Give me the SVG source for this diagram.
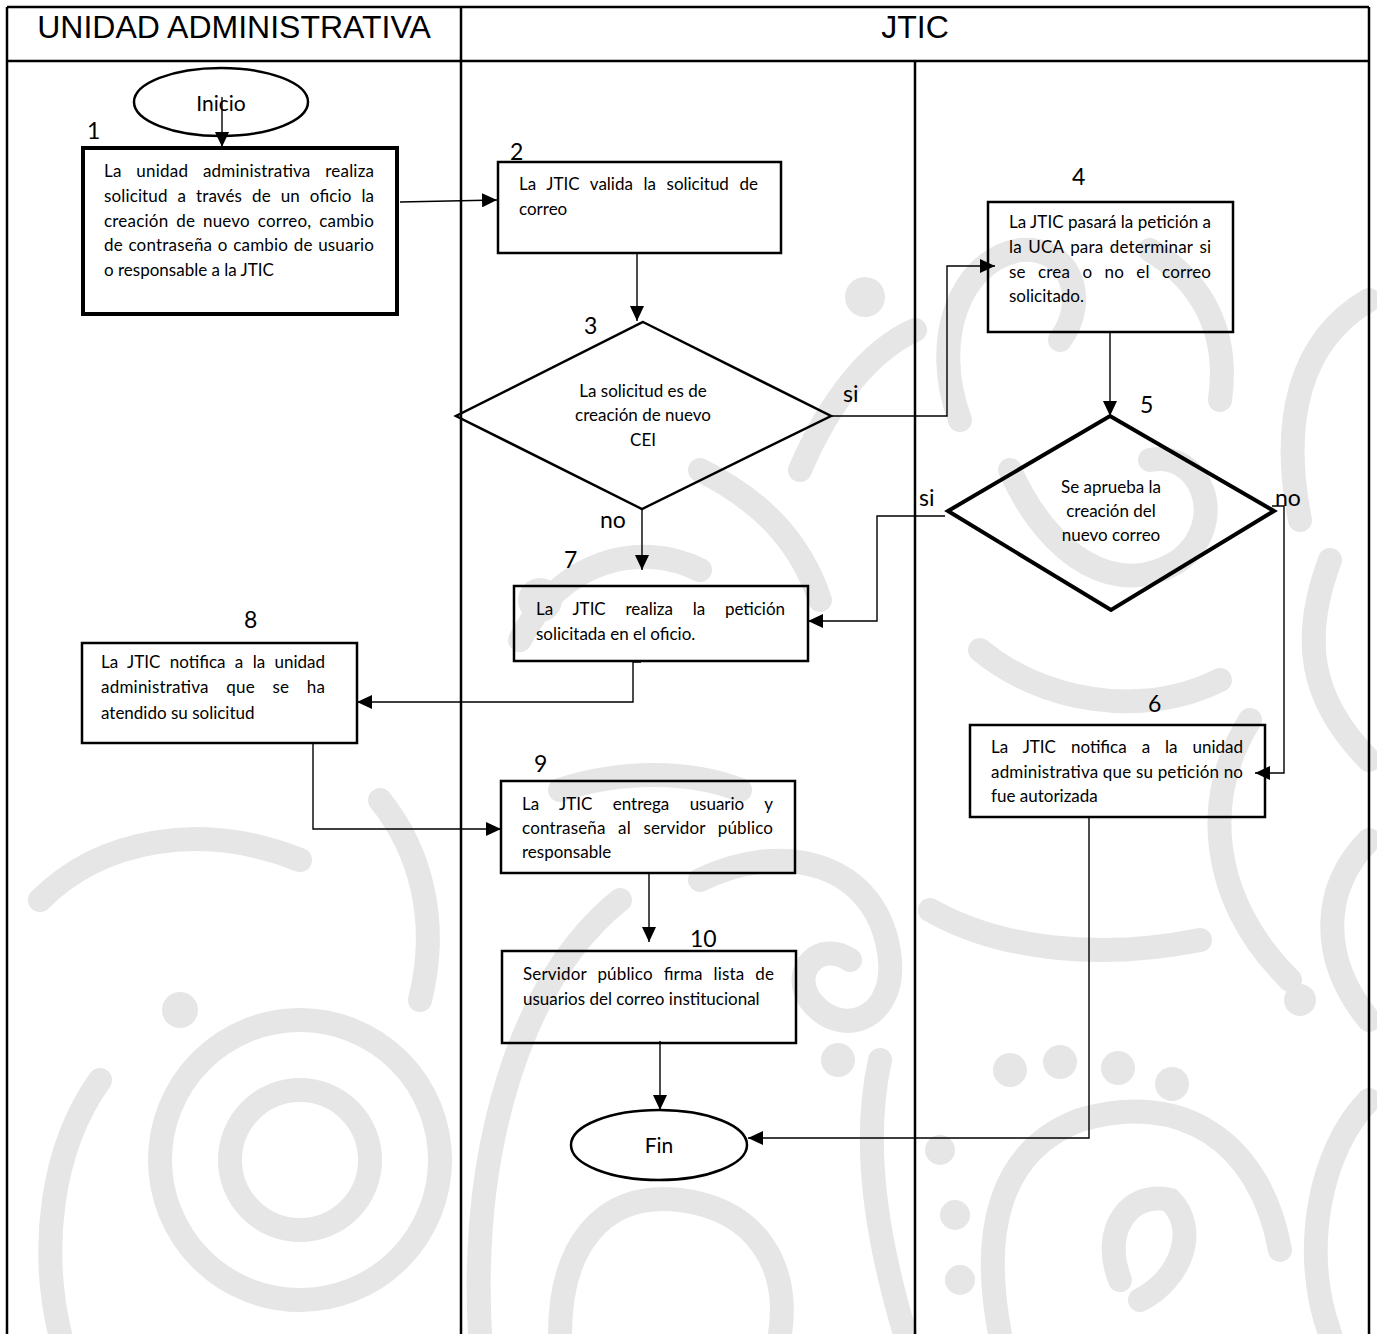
<svg xmlns="http://www.w3.org/2000/svg" width="1377" height="1334" viewBox="0 0 1377 1334">
  <defs>
    <marker id="arrow" markerUnits="userSpaceOnUse" markerWidth="15" markerHeight="14" refX="15" refY="7" orient="auto">
      <path d="M0,0 L15,7 L0,14 z" fill="#000"/>
    </marker>
    <style>
      .lane { stroke: #000; stroke-width: 2.5; fill: none; }
      .head { font-family: "Liberation Sans", Arial, sans-serif; font-size: 32px; fill: #000; }
      .box { fill: none; stroke: #000; stroke-width: 2.5; }
      .box-thick { fill: none; stroke: #000; stroke-width: 4; }
      .txt { font-family: Lato, "Open Sans", sans-serif; font-size: 17px; fill: #000; }
      .mid { text-anchor: middle; }
      .num { font-family: Lato, "Open Sans", sans-serif; font-size: 23px; fill: #000; }
      .term { font-family: Lato, "Open Sans", sans-serif; font-size: 21px; fill: #000; text-anchor: middle; }
      .conn { fill: none; stroke: #000; stroke-width: 1.4; }
      .wm { fill: none; stroke: #e6e6e6; stroke-width: 24; stroke-linecap: round; }
      .wd { fill: #e6e6e6; }
    </style>
  </defs>

  <rect width="1377" height="1334" fill="#fff"/>

  <!-- background ornament -->
  <g id="ornament">
    <g class="wm">
      <path d="M800 470 C 830 400, 870 350, 915 330"/>
      <path d="M960 420 C 930 340, 960 260, 1020 250 C 1070 245, 1090 300, 1060 340"/>
      <path d="M1150 250 C 1200 280, 1230 330, 1220 400"/>
      <path d="M1369 300 C 1300 340, 1280 420, 1300 520"/>
      <path d="M1330 560 C 1300 640, 1310 700, 1369 760"/>
      <path d="M1010 470 C 1050 560, 1120 600, 1180 560 C 1230 520, 1200 450, 1150 460"/>
      <path d="M980 650 C 1040 700, 1140 720, 1220 680"/>
      <path d="M1250 720 C 1200 800, 1210 900, 1290 980"/>
      <path d="M1369 840 C 1320 890, 1320 960, 1369 1020"/>
      <path d="M930 910 C 1000 950, 1100 960, 1200 940"/>
      <path d="M1000 1334 C 980 1230, 1000 1150, 1080 1120 C 1180 1090, 1260 1140, 1280 1250"/>
      <path d="M1120 1280 C 1100 1230, 1130 1190, 1170 1200 C 1200 1230, 1180 1280, 1140 1300"/>
      <path d="M1369 1100 C 1320 1150, 1300 1250, 1330 1334"/>
      <path d="M480 1334 C 470 1150, 520 980, 620 900"/>
      <path d="M560 790 C 620 770, 690 770, 740 790"/>
      <path d="M700 880 C 780 840, 880 860, 890 960 C 895 1020, 840 1040, 810 1000 C 790 970, 820 940, 850 960"/>
      <path d="M560 1334 C 560 1250, 600 1190, 680 1200 C 760 1210, 790 1270, 780 1334"/>
      <path d="M880 1060 C 860 1150, 880 1250, 905 1334"/>
      <path d="M700 470 C 760 500, 800 540, 820 600"/>
      <path d="M520 640 C 560 560, 640 540, 700 570"/>
      <circle cx="300" cy="1160" r="70"/>
      <circle cx="300" cy="1160" r="140"/>
      <path d="M40 900 C 100 840, 200 820, 300 860"/>
      <path d="M60 1334 C 40 1250, 50 1150, 100 1080"/>
      <path d="M380 800 C 420 850, 440 920, 420 1000"/>
    </g>
    <g class="wd">
      <circle cx="865" cy="297" r="20"/>
      <circle cx="1010" cy="1070" r="17"/>
      <circle cx="1060" cy="1062" r="17"/>
      <circle cx="1118" cy="1068" r="17"/>
      <circle cx="1172" cy="1084" r="17"/>
      <circle cx="940" cy="1150" r="15"/>
      <circle cx="955" cy="1215" r="15"/>
      <circle cx="960" cy="1280" r="15"/>
      <circle cx="838" cy="1060" r="17"/>
      <circle cx="540" cy="600" r="22"/>
      <circle cx="180" cy="1010" r="18"/>
      <circle cx="1300" cy="1000" r="16"/>
    </g>
  </g>

  <!-- swimlane frame -->
  <g id="lanes">
    <line class="lane" x1="7" y1="7" x2="1369" y2="7"/>
    <line class="lane" x1="7" y1="61" x2="1369" y2="61"/>
    <line class="lane" x1="7" y1="7" x2="7" y2="1334"/>
    <line class="lane" x1="1369" y1="7" x2="1369" y2="1334"/>
    <line class="lane" x1="461" y1="7" x2="461" y2="1334"/>
    <line class="lane" x1="915" y1="61" x2="915" y2="1334"/>
    <text class="head mid" x="234" y="38">UNIDAD ADMINISTRATIVA</text>
    <text class="head mid" x="915" y="38">JTIC</text>
  </g>

  <!-- connectors -->
  <g id="connectors">
    <path class="conn" d="M222 97 V147" marker-end="url(#arrow)"/>
    <path class="conn" d="M400 202 L497 200" marker-end="url(#arrow)"/>
    <path class="conn" d="M637 253 V321" marker-end="url(#arrow)"/>
    <path class="conn" d="M831 416 H947 V266 H995" marker-end="url(#arrow)"/>
    <path class="conn" d="M1110 332 V416" marker-end="url(#arrow)"/>
    <path class="conn" d="M945 516 H877 V621 H808" marker-end="url(#arrow)"/>
    <path class="conn" d="M1272 506 H1284 V773 H1255" marker-end="url(#arrow)"/>
    <path class="conn" d="M642 509 V570" marker-end="url(#arrow)"/>
    <path class="conn" d="M641 662 H633 V702 H357" marker-end="url(#arrow)"/>
    <path class="conn" d="M313 743 V829 H501" marker-end="url(#arrow)"/>
    <path class="conn" d="M649 873 V942" marker-end="url(#arrow)"/>
    <path class="conn" d="M660 1041 V1110" marker-end="url(#arrow)"/>
    <path class="conn" d="M1098 817 H1089 V1138 H748" marker-end="url(#arrow)"/>
    <text class="num" x="843" y="402">si</text>
    <text class="num" x="600" y="528">no</text>
    <text class="num" x="919" y="506">si</text>
    <text class="num" x="1275" y="506">no</text>
  </g>

  <!-- start -->
  <g id="inicio">
    <ellipse class="box" cx="221" cy="102" rx="87" ry="34"/>
    <text class="term" x="221" y="111">Inicio</text>
  </g>

  <!-- step 1 -->
  <g id="step1">
    <text class="num" x="87" y="139">1</text>
    <rect class="box-thick" x="83" y="148" width="314" height="166"/>
    <text class="txt" x="104" y="177" word-spacing="10.2" textLength="270" lengthAdjust="spacing">La unidad administrativa realiza</text>
    <text class="txt" x="104" y="202" word-spacing="5.4" textLength="270" lengthAdjust="spacing">solicitud a través de un oficio la</text>
    <text class="txt" x="104" y="227" word-spacing="3.3" textLength="270" lengthAdjust="spacing">creación de nuevo correo, cambio</text>
    <text class="txt" x="104" y="251" word-spacing="1" textLength="270" lengthAdjust="spacing">de contraseña o cambio de usuario</text>
    <text class="txt" x="104" y="276">o responsable a la JTIC</text>
  </g>

  <!-- step 2 -->
  <g id="step2">
    <text class="num" x="510" y="160">2</text>
    <rect class="box" x="498" y="162" width="283" height="91"/>
    <text class="txt" x="519" y="190" word-spacing="6.3" textLength="239" lengthAdjust="spacing">La JTIC valida la solicitud de</text>
    <text class="txt" x="519" y="215">correo</text>
  </g>

  <!-- step 3 decision -->
  <g id="step3">
    <text class="num" x="584" y="334">3</text>
    <polygon class="box" points="643,322 831,416 642,509 456,416"/>
    <text class="txt mid" x="643" y="397">La solicitud es de</text>
    <text class="txt mid" x="643" y="421">creación de nuevo</text>
    <text class="txt mid" x="643" y="446">CEI</text>
  </g>

  <!-- step 4 -->
  <g id="step4">
    <text class="num" x="1072" y="185">4</text>
    <rect class="box" x="988" y="202" width="245" height="130"/>
    <text class="txt" x="1009" y="228" textLength="202" lengthAdjust="spacing">La JTIC pasará la petición a</text>
    <text class="txt" x="1009" y="253" word-spacing="2.1" textLength="202" lengthAdjust="spacing">la UCA para determinar si</text>
    <text class="txt" x="1009" y="278" word-spacing="7.9" textLength="202" lengthAdjust="spacing">se crea o no el correo</text>
    <text class="txt" x="1009" y="302">solicitado.</text>
  </g>

  <!-- step 5 decision -->
  <g id="step5">
    <text class="num" x="1140" y="413">5</text>
    <polygon class="box-thick" points="1110,416 1274,511 1111,610 948,511"/>
    <text class="txt mid" x="1111" y="493">Se aprueba la</text>
    <text class="txt mid" x="1111" y="517">creación del</text>
    <text class="txt mid" x="1111" y="541">nuevo correo</text>
  </g>

  <!-- step 6 -->
  <g id="step6">
    <text class="num" x="1148" y="712">6</text>
    <rect class="box" x="970" y="725" width="295" height="92"/>
    <text class="txt" x="991" y="753" word-spacing="10.7" textLength="252" lengthAdjust="spacing">La JTIC notifica a la unidad</text>
    <text class="txt" x="991" y="778" textLength="252" lengthAdjust="spacing">administrativa que su petición no</text>
    <text class="txt" x="991" y="802">fue autorizada</text>
  </g>

  <!-- step 7 -->
  <g id="step7">
    <text class="num" x="564" y="568">7</text>
    <rect class="box" x="514" y="586" width="294" height="75"/>
    <text class="txt" x="536" y="615" word-spacing="15.5" textLength="249" lengthAdjust="spacing">La JTIC realiza la petición</text>
    <text class="txt" x="536" y="640">solicitada en el oficio.</text>
  </g>

  <!-- step 8 -->
  <g id="step8">
    <text class="num" x="244" y="628">8</text>
    <rect class="box" x="82" y="643" width="275" height="100"/>
    <text class="txt" x="101" y="668" word-spacing="5.1" textLength="224" lengthAdjust="spacing">La JTIC notifica a la unidad</text>
    <text class="txt" x="101" y="693" word-spacing="13" textLength="224" lengthAdjust="spacing">administrativa que se ha</text>
    <text class="txt" x="101" y="719">atendido su solicitud</text>
  </g>

  <!-- step 9 -->
  <g id="step9">
    <text class="num" x="534" y="772">9</text>
    <rect class="box" x="501" y="781" width="294" height="92"/>
    <text class="txt" x="522" y="810" word-spacing="16.1" textLength="251" lengthAdjust="spacing">La JTIC entrega usuario y</text>
    <text class="txt" x="522" y="834" word-spacing="7.9" textLength="251" lengthAdjust="spacing">contraseña al servidor público</text>
    <text class="txt" x="522" y="858">responsable</text>
  </g>

  <!-- step 10 -->
  <g id="step10">
    <text class="num" x="690" y="947">10</text>
    <rect class="box" x="502" y="951" width="294" height="92"/>
    <text class="txt" x="523" y="980" word-spacing="6.4" textLength="251" lengthAdjust="spacing">Servidor público firma lista de</text>
    <text class="txt" x="523" y="1005">usuarios del correo institucional</text>
  </g>

  <!-- end -->
  <g id="fin">
    <ellipse class="box" cx="659" cy="1145" rx="88" ry="35"/>
    <text class="term" x="659" y="1153">Fin</text>
  </g>
</svg>
